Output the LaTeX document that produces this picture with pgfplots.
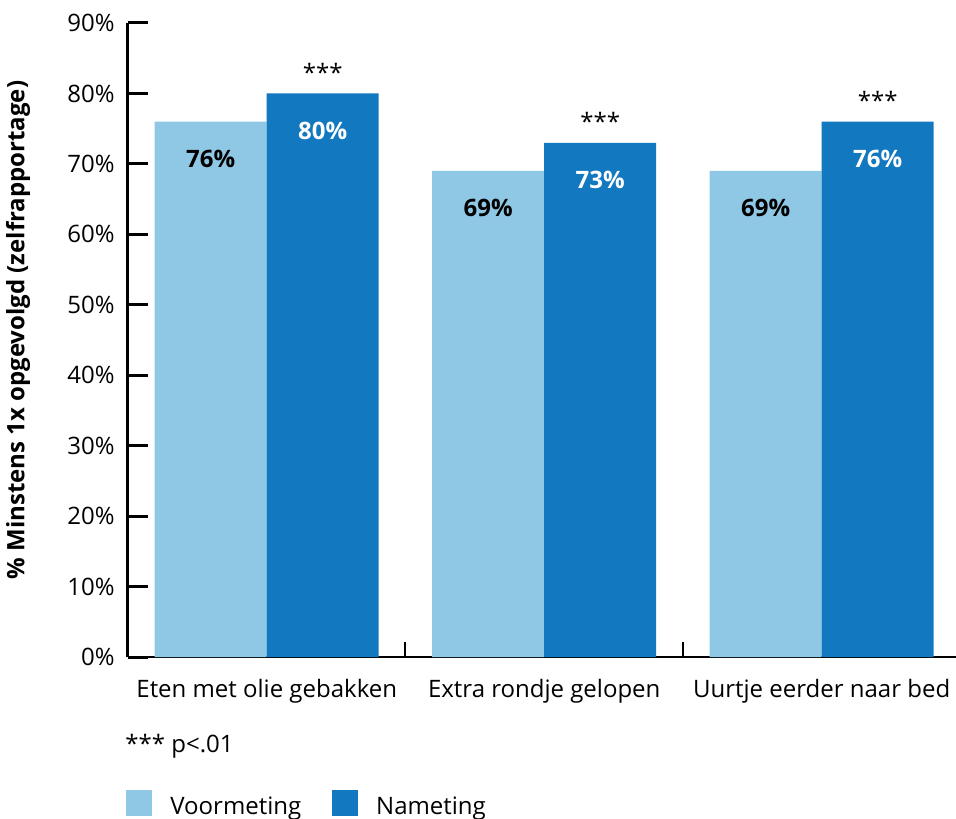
\documentclass[12pt,border=0pt]{standalone}
\usepackage{pgfplots}
\pgfplotsset{compat=1.18}
\usepackage{fontspec}
\setmainfont{Open Sans}
\definecolor{lightb}{HTML}{8FC8E5}
\definecolor{darkb}{HTML}{1278BF}
\begin{document}
\begin{tikzpicture}
\useasboundingbox (-64pt,-80.5pt) rectangle (414pt,328.5pt);
\begin{axis}[
  at={(0,0)}, anchor=south west,
  scale only axis, width=414pt, height=317pt,
  xmin=-0.5, xmax=2.484, ymin=0, ymax=90,
  ybar=0pt, bar width=56pt,
  clip=false,
  axis x line*=bottom, axis y line*=left,
  x axis line style={-, line width=1pt},
  y axis line style={-, line width=1.5pt},
  ytick={0,10,...,90},
  /pgf/number format/assume math mode=true,
  yticklabel={\pgfmathprintnumber{\tick}\%},
  yticklabel style={xshift=-2.5pt},
  ytick style={line width=1.5pt, black},
  tick align=inside,
  major tick length=10pt,
  xtick={0,1,2},
  xticklabels={Eten met olie gebakken, Extra rondje gelopen, Uurtje eerder naar bed},
  xtick style={draw=none},
  xticklabel style={anchor=base, yshift=-20pt},
  extra x ticks={0.5,1.5},
  extra x tick labels={},
  extra x tick style={major tick length=7.5pt, xtick style={draw=black, line width=1pt}},
  nodes near coords={\pgfmathprintnumber{\pgfplotspointmeta}\%},
  every node near coord/.append style={anchor=center, yshift=-18.5pt, font=\bfseries},
  legend style={draw=none, at={(axis description cs:0,0)}, anchor=north west, xshift=-4pt, yshift=-64.25pt,
    legend columns=2, /tikz/every even column/.append style={column sep=13.5pt},
    /tikz/every odd column/.append style={column sep=7pt}},
  legend cell align=left,
]
\addplot[fill=lightb, draw=none, every node near coord/.append style={text=black},
  legend image code/.code={\fill[lightb] (0pt,-4.25pt) rectangle (13pt,8.75pt);}]
  coordinates {(0,76) (1,69) (2,69)};
\addlegendentry{Voormeting}
\addplot[fill=darkb, draw=none, every node near coord/.append style={text=white},
  legend image code/.code={\fill[darkb] (0pt,-4.25pt) rectangle (13pt,8.75pt);}]
  coordinates {(0,80) (1,73) (2,76)};
\addlegendentry{Nameting}
\node[xshift=28pt, yshift=10.5pt] at (axis cs:0,80) {***};
\node[xshift=28pt, yshift=10.5pt] at (axis cs:1,73) {***};
\node[xshift=28pt, yshift=10.5pt] at (axis cs:2,76) {***};
\end{axis}
\node[anchor=base west, inner sep=0pt] at (-1.5pt,-47.5pt) {*** p<.01};
\node[rotate=90, font=\bfseries] at (-55pt,163.5pt) {\% Minstens 1x opgevolgd (zelfrapportage)};
\end{tikzpicture}
\end{document}
